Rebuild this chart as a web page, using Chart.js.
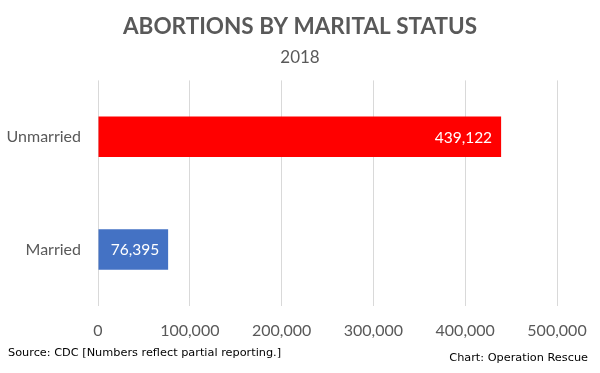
<!DOCTYPE html>
<html>
<head>
<meta charset="utf-8">
<title>Abortions by Marital Status</title>
<script src="https://cdn.jsdelivr.net/npm/chart.js@4/dist/chart.umd.min.js"></script>
<style>
  body { margin: 0; background: #fff; }
  canvas { display: block; }
</style>
</head>
<body>
<canvas id="myChart" width="600" height="373"></canvas>
<script>
// data
const categories = ['Unmarried', 'Married'];
const abortions = [439122, 76395];
const barColors = ['#FF0000', '#4472C4'];
const tickMax = 500000;
const tickStep = 100000;

const gray = '#595959';
const baseFont = 'Lato';

// white value inside the end of each bar
const barLabels = {
    id: 'barLabels',
    afterDatasetsDraw(chart) {
        const ctx = chart.ctx;
        const meta = chart.getDatasetMeta(0);
        ctx.save();
        ctx.font = "15.5px " + baseFont;
        ctx.fillStyle = '#ffffff';
        ctx.textAlign = 'right';
        ctx.textBaseline = 'middle';
        meta.data.forEach((bar, i) => {
            ctx.fillText(abortions[i].toLocaleString('en-US'), bar.x - 9, bar.y + 1);
        });
        ctx.restore();
    }
};

// source line and credit at the bottom
const footer = {
    id: 'footer',
    afterDraw(chart) {
        const ctx = chart.ctx;
        ctx.save();
        ctx.font = "11.3px 'DejaVu Sans'";
        ctx.fillStyle = '#000000';
        ctx.textBaseline = 'middle';
        ctx.textAlign = 'left';
        ctx.fillText('Source: CDC [Numbers reflect partial reporting.]', 8, 353);
        ctx.textAlign = 'right';
        ctx.fillText('Chart: Operation Rescue', 588, 358);
        ctx.restore();
    }
};

const ctx = document.getElementById('myChart').getContext('2d');
const myChart = new Chart(ctx, {
    type: 'bar',
    data: {
        labels: categories,
        datasets: [{
            data: abortions,
            backgroundColor: barColors,
            borderWidth: 0,
            categoryPercentage: 1,
            barPercentage: 0.36
        }]
    },
    options: {
        indexAxis: 'y',
        responsive: false,
        animation: false,
        layout: {
            padding: { left: 0, right: 0, top: 0, bottom: 18 }
        },
        plugins: {
            legend: { display: false },
            tooltip: { enabled: false },
            title: {
                display: true,
                text: 'ABORTIONS BY MARITAL STATUS',
                color: gray,
                font: { family: baseFont, size: 22.5, weight: 'bold', lineHeight: 1.2 },
                padding: { top: 13, bottom: 7 }
            },
            subtitle: {
                display: true,
                text: '2018',
                color: gray,
                font: { family: baseFont, size: 17, lineHeight: 1.2 },
                padding: { top: 0, bottom: 13 }
            }
        },
        scales: {
            x: {
                min: 0,
                max: tickMax,
                border: { display: false },
                grid: { color: '#D9D9D9', drawTicks: false, lineWidth: 1 },
                ticks: {
                    stepSize: tickStep,
                    color: gray,
                    padding: 15,
                    maxRotation: 0,
                    font: { family: baseFont, size: 16 },
                    callback: v => v.toLocaleString('en-US')
                },
                afterFit(scale) { scale.paddingRight = 43; }
            },
            y: {
                border: { display: false },
                grid: { display: false, drawTicks: false },
                ticks: {
                    color: gray,
                    padding: 17,
                    font: { family: baseFont, size: 16 }
                },
                afterFit(scale) { scale.width = 98; }
            }
        }
    },
    plugins: [barLabels, footer]
});
</script>
</body>
</html>
